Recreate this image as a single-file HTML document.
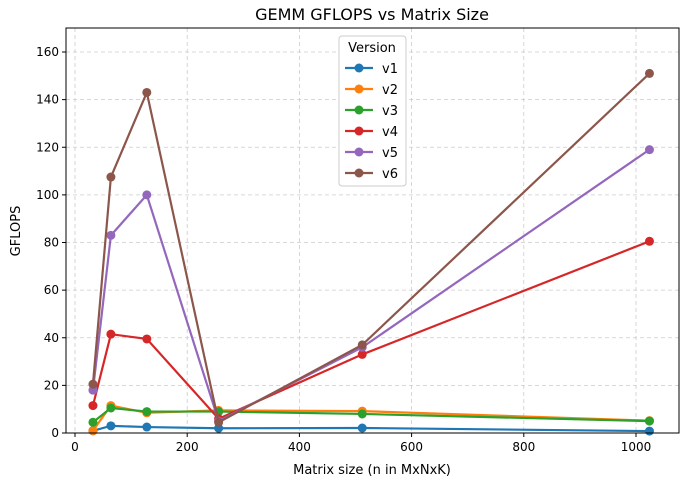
<!DOCTYPE html>
<html><head><meta charset="utf-8"><style>
body{margin:0;background:#fff;font-family:"Liberation Sans","DejaVu Sans",sans-serif}
</style></head><body>
<svg id="c" width="688" height="481" xmlns="http://www.w3.org/2000/svg" font-family="DejaVu Sans, Liberation Sans, sans-serif"></svg>
<script>
const sizes=[32,64,128,256,512,1024];
const seriesNames=["v1","v2","v3","v4","v5","v6"];
const v1=[0.9,3.0,2.5,2.0,2.1,0.8];
const v2=[1.0,11.5,8.5,9.5,9.2,5.2];
const v3=[4.5,10.5,9.0,9.0,8.0,5.0];
const v4=[11.5,41.5,39.5,6.0,33.0,80.5];
const v5=[18.0,83.0,100.0,5.0,36.0,119.0];
const v6=[20.5,107.5,143.0,4.5,37.0,151.0];
const xTicks=[0,200,400,600,800,1000];
const yTicks=[0,20,40,60,80,100,120,140,160];
const colors=["#1f77b4","#ff7f0e","#2ca02c","#d62728","#9467bd","#8c564b"];
const allSeries=[v1,v2,v3,v4,v5,v6];
const L=66,R=679,T=28,B=433;
const xs=v=>75+(v-0)*(636-75)/1000;
const ys=v=>433-v*(433-52)/160;
const svg=document.getElementById('c');
const NS="http://www.w3.org/2000/svg";
function mk(t,a,txt){const e=document.createElementNS(NS,t);for(const k in a)e.setAttribute(k,a[k]);if(txt!=null)e.textContent=txt;svg.appendChild(e);return e;}
let e;
e=mk('rect',{x:L,y:T,width:R-L,height:B-T,fill:'#fff'});


xTicks.forEach(t=>{const x=xs(t);
e=mk('line',{x1:x,x2:x,y1:T,y2:B,stroke:'#ccc','stroke-dasharray':'4,3','stroke-width':0.8});


e=mk('line',{x1:x,x2:x,y1:B,y2:B+4,stroke:'#000'});


e=mk('text',{x:x,y:B+18,'font-size':12,'text-anchor':'middle'},t);

});
yTicks.forEach(t=>{const y=ys(t);
e=mk('line',{x1:L,x2:R,y1:y,y2:y,stroke:'#ccc','stroke-dasharray':'4,3','stroke-width':0.8});


e=mk('line',{x1:L-4,x2:L,y1:y,y2:y,stroke:'#000'});


e=mk('text',{x:L-7,y:y+4,'font-size':12,'text-anchor':'end'},t);

});
allSeries.forEach((s,i)=>{
const pts=s.map((v,j)=>xs(sizes[j])+','+ys(v)).join(' ');
e=mk('polyline',{points:pts,fill:'none',stroke:colors[i],'stroke-width':2.2});


s.forEach((v,j)=>{e=mk('circle',{cx:xs(sizes[j]),cy:ys(v),r:4.5,fill:colors[i]});

});
});
e=mk('rect',{x:L,y:T,width:R-L,height:B-T,fill:'none',stroke:'#000','stroke-width':1});


e=mk('text',{x:372,y:20,'font-size':16,'text-anchor':'middle'},'GEMM GFLOPS vs Matrix Size');


e=mk('text',{x:372,y:474,'font-size':13,'text-anchor':'middle'},'Matrix size (n in MxNxK)');


e=mk('text',{x:20,y:231,'font-size':13,'text-anchor':'middle',transform:'rotate(-90 20 231)'},'GFLOPS');


e=mk('rect',{x:339,y:36,width:67,height:150,fill:'#fff',stroke:'#ccc',rx:3});


e=mk('text',{x:372,y:52,'font-size':13,'text-anchor':'middle'},'Version');


seriesNames.forEach((n,i)=>{const y=68+i*21;
e=mk('line',{x1:345,x2:373,y1:y,y2:y,stroke:colors[i],'stroke-width':2.2});


e=mk('circle',{cx:359,cy:y,r:4.5,fill:colors[i]});


e=mk('text',{x:382,y:y+5,'font-size':13},n);

});
</script>
</body></html>
